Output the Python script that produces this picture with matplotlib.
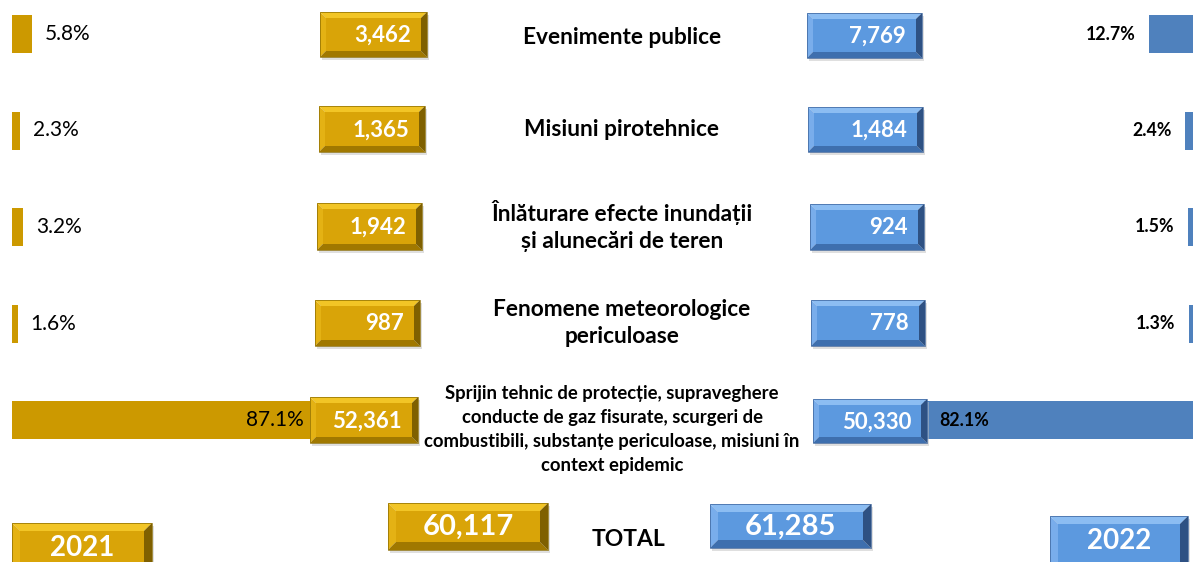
import matplotlib
matplotlib.use("Agg")
import matplotlib.pyplot as plt
from matplotlib.patches import Polygon

plt.rcParams['font.family'] = ['Lato', 'DejaVu Sans']

categories = [
    "Evenimente publice",
    "Misiuni pirotehnice",
    "Înlăturare efecte inundații\nși alunecări de teren",
    "Fenomene meteorologice\npericuloase",
    "Sprijin tehnic de protecție, supraveghere\nconducte de gaz fisurate, scurgeri de\ncombustibili, substanțe periculoase, misiuni în\ncontext epidemic",
]
counts_2021 = [3462, 1365, 1942, 987, 52361]
counts_2022 = [7769, 1484, 924, 778, 50330]
pct_2021 = [5.8, 2.3, 3.2, 1.6, 87.1]
pct_2022 = [12.7, 2.4, 1.5, 1.3, 82.1]
total_2021 = 60117
total_2022 = 61285
year_labels = ["2021", "2022"]

GOLD = "#CC9900"
BLUE = "#4F81BD"

W, H = 1193, 562
fig = plt.figure(figsize=(W / 100, H / 100), dpi=100, facecolor="white")

# row geometry (pixels)
row_top = 34.0
row_step = 96.5
ylim = ((H - row_top) / row_step, -row_top / row_step)
px_per_pct = 3.45
span = 100 * px_per_pct
bar_h = 38 / row_step

rows = list(range(len(categories)))

# left (2021) bars
axl = fig.add_axes([12 / W, 0, span / W, 1])
axl.barh(rows, pct_2021, height=bar_h, color=GOLD)
axl.set_xlim(0, 100)
axl.set_ylim(*ylim)
axl.axis("off")
for i, p in enumerate(pct_2021):
    lab = f"{p:.1f}%"
    if p > 50:
        axl.annotate(lab, xy=(p, i), xytext=(-6, 0), textcoords="offset points",
                     ha="right", va="center", fontsize=15, color="black")
    else:
        axl.annotate(lab, xy=(p, i), xytext=(9.5, 0), textcoords="offset points",
                     ha="left", va="center", fontsize=15, color="black")

# right (2022) bars, growing leftwards from right edge
axr = fig.add_axes([(W - span) / W, 0, span / W, 1])
axr.barh(rows, pct_2022, height=bar_h, color=BLUE)
axr.set_xlim(100, 0)
axr.set_ylim(*ylim)
axr.axis("off")
for i, p in enumerate(pct_2022):
    lab = f"{p:.1f}%"
    if p > 50:
        axr.annotate(lab, xy=(p, i), xytext=(21, 0), textcoords="offset points",
                     ha="left", va="center", fontsize=12.8, fontweight="bold", color="black")
    else:
        axr.annotate(lab, xy=(p, i), xytext=(-9.5, 0), textcoords="offset points",
                     ha="right", va="center", fontsize=12.8, fontweight="bold", color="black")

# overlay in pixel coordinates for boxes and labels
ax = fig.add_axes([0, 0, 1, 1])
ax.set_xlim(0, W)
ax.set_ylim(H, 0)
ax.axis("off")

GOLD_PAL = dict(face="#D9A408", top="#F2C526", left="#E4B214", bottom="#A07800", right="#7F6000", edge="#8A6B00")
BLUE_PAL = dict(face="#5C99DF", top="#8CBDF2", left="#79ADEB", bottom="#3E6FAE", right="#2E5183", edge="#3A6199")


def bevel_box(x0, y0, x1, y1, pal, d=6):
    ax.add_patch(Polygon([(x0 + 2, y0 + 3), (x1 + 2, y0 + 3), (x1 + 2, y1 + 3), (x0 + 2, y1 + 3)],
                         closed=True, facecolor="#C0C0C0", edgecolor="none", alpha=0.5, zorder=2))
    ax.add_patch(Polygon([(x0, y0), (x1, y0), (x1 - d, y0 + d), (x0 + d, y0 + d)],
                         closed=True, facecolor=pal["top"], edgecolor="none", zorder=3))
    ax.add_patch(Polygon([(x0, y0), (x0 + d, y0 + d), (x0 + d, y1 - d), (x0, y1)],
                         closed=True, facecolor=pal["left"], edgecolor="none", zorder=3))
    ax.add_patch(Polygon([(x0, y1), (x0 + d, y1 - d), (x1 - d, y1 - d), (x1, y1)],
                         closed=True, facecolor=pal["bottom"], edgecolor="none", zorder=3))
    ax.add_patch(Polygon([(x1, y0), (x1, y1), (x1 - d, y1 - d), (x1 - d, y0 + d)],
                         closed=True, facecolor=pal["right"], edgecolor="none", zorder=3))
    ax.add_patch(Polygon([(x0 + d, y0 + d), (x1 - d, y0 + d), (x1 - d, y1 - d), (x0 + d, y1 - d)],
                         closed=True, facecolor=pal["face"], edgecolor="none", zorder=3))
    ax.add_patch(Polygon([(x0, y0), (x1, y0), (x1, y1), (x0, y1)],
                         closed=True, facecolor="none", edgecolor=pal["edge"], linewidth=0.5, zorder=4))


gold_boxes = [(320, 12, 427, 57), (319, 106, 425, 152), (317, 203, 422, 250),
              (315, 300, 420, 346), (310, 397, 418, 443)]
blue_boxes = [(807, 13, 922, 58), (808, 107, 923, 152), (810, 204, 924, 250),
              (811, 300, 925, 346), (813, 399, 927, 443)]

for (x0, y0, x1, y1), v in zip(gold_boxes, counts_2021):
    bevel_box(x0, y0, x1, y1, GOLD_PAL)
    ax.text(x1 - 16, (y0 + y1) / 2 + 1, f"{v:,}", ha="right", va="center",
            fontsize=16, fontweight="bold", color="white", zorder=5)
for (x0, y0, x1, y1), v in zip(blue_boxes, counts_2022):
    bevel_box(x0, y0, x1, y1, BLUE_PAL)
    ax.text(x1 - 16, (y0 + y1) / 2 + 1, f"{v:,}", ha="right", va="center",
            fontsize=16, fontweight="bold", color="white", zorder=5)

# category labels
cat_x = [622, 622, 622, 622, 612]
cat_y = [37, 129, 226, 323, 429]
for i, (c, x, y) in enumerate(zip(categories, cat_x, cat_y)):
    fs = 13.3 if i == 4 else 16.3
    ls = 1.5 if i == 4 else 1.33
    ax.text(x, y, c, ha="center", va="center", fontsize=fs, fontweight="bold",
            color="black", linespacing=ls, zorder=5)

# totals and years
bevel_box(12, 523, 152, 575, GOLD_PAL, d=8)
ax.text(82, 548, year_labels[0], ha="center", va="center", fontsize=20,
        fontweight="bold", color="white", zorder=5)
bevel_box(388, 503, 548, 550, GOLD_PAL, d=8)
ax.text(468, 527, f"{total_2021:,}", ha="center", va="center", fontsize=21,
        fontweight="bold", color="white", zorder=5)
bevel_box(710, 504, 871, 548, BLUE_PAL, d=8)
ax.text(790, 527, f"{total_2022:,}", ha="center", va="center", fontsize=21,
        fontweight="bold", color="white", zorder=5)
bevel_box(1050, 516, 1188, 575, BLUE_PAL, d=8)
ax.text(1119, 541, year_labels[1], ha="center", va="center", fontsize=20,
        fontweight="bold", color="white", zorder=5)
ax.text(628, 539, "TOTAL", ha="center", va="center", fontsize=16.5,
        fontweight="bold", color="black", zorder=5)

fig.savefig("out.png", dpi=100, facecolor="white")
